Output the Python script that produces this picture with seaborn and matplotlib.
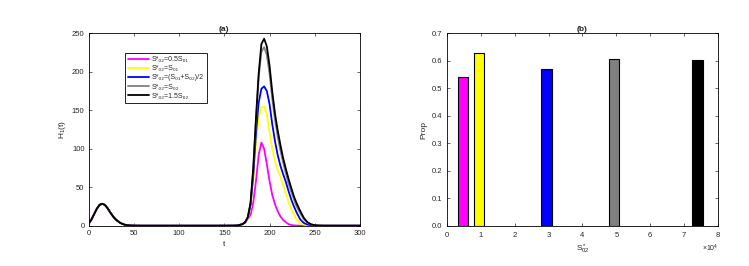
import numpy as np
import pandas as pd
import matplotlib
matplotlib.use('Agg')
import matplotlib.pyplot as plt
import seaborn as sns

# ============================================
# Data
# ============================================
# (a) H_1(t) curves: early wave (shared) + second wave per scenario
T_EARLY = [0, 3, 6, 9, 12, 15, 18, 21, 24, 27, 30, 35, 40, 45, 50, 60, 80, 100, 120, 140]
H_EARLY = [2.5, 8, 15, 22, 27, 28.5, 27, 22.5, 17, 12, 8, 3.5, 1.2, 0.4, 0.1, 0, 0, 0, 0, 0]

T_LATE = [160, 165, 170, 173, 176, 179, 182, 185, 188, 191, 194, 197, 200, 203, 206, 209,
          212, 215, 218, 221, 224, 227, 230, 234, 238, 242, 246, 250, 255, 260, 270, 280, 300]
H_MAGENTA = [0.1, 0.4, 2, 4, 9, 14, 30, 58, 92, 108, 100, 80, 58, 40, 28, 19,
             12, 7.5, 4.5, 2, 1, 0.4, 0.15, 0.05, 0, 0, 0, 0, 0, 0, 0, 0, 0]
H_YELLOW = [0.1, 0.4, 2, 4.5, 10, 24, 58, 108, 140, 154, 155, 145, 122, 100, 84, 72,
            64, 53, 42, 31, 22, 14, 8, 3.5, 1.3, 0.5, 0.2, 0.05, 0, 0, 0, 0, 0]
H_BLUE = [0.1, 0.4, 2, 4.5, 11, 27, 66, 120, 160, 178, 181, 175, 158, 132, 110, 92,
          78, 67, 57, 45, 34, 25, 17, 8, 3.5, 1.5, 0.6, 0.2, 0.05, 0, 0, 0, 0]
H_GRAY = [0.1, 0.4, 2, 4.5, 11, 29, 73, 136, 193, 226, 232, 222, 198, 165, 138, 116,
          98, 82, 68, 55, 44, 34, 25, 16, 8.5, 3.8, 1.5, 0.6, 0.2, 0.05, 0, 0, 0]
H_BLACK = [0.1, 0.4, 2, 4.5, 11, 30, 75, 140, 198, 236, 243, 233, 208, 174, 146, 124,
           105, 88, 74, 61, 49, 38, 29, 19, 10, 4.5, 1.8, 0.7, 0.2, 0.05, 0, 0, 0]

# legend texts (asterisk raised, indices as subscript digits)
LABELS = ['S*\u2080\u2082=0.5S\u2080\u2081',
          'S*\u2080\u2082=S\u2080\u2081',
          'S*\u2080\u2082=(S\u2080\u2081+S\u2080\u2082)/2',
          'S*\u2080\u2082=S\u2080\u2082',
          'S*\u2080\u2082=1.5S\u2080\u2082']
COLORS = ['#FF00FF', '#FFFF00', '#0000FF', '#808080', '#000000']

# (b) proportion vs S*_02
S02_STAR = [4700, 9400, 29400, 49300, 73900]
PROP = [0.541, 0.628, 0.570, 0.607, 0.602]

# ============================================
# Style
# ============================================
sns.set_style('ticks')
plt.rcParams['font.family'] = ['Liberation Sans', 'DejaVu Sans']
plt.rcParams['mathtext.fontset'] = 'custom'
plt.rcParams['mathtext.rm'] = 'Liberation Sans'
plt.rcParams['mathtext.it'] = 'Liberation Sans:italic'
plt.rcParams['mathtext.bf'] = 'Liberation Sans:bold'
plt.rcParams['xtick.direction'] = 'in'
plt.rcParams['ytick.direction'] = 'in'
plt.rcParams['axes.linewidth'] = 0.6

fig = plt.figure(figsize=(7.49, 2.66), dpi=100)
ax1 = fig.add_axes([0.1184, 0.1515, 0.3622, 0.7233])
ax2 = fig.add_axes([0.5964, 0.1515, 0.3626, 0.7233])

# ---- panel (a)
curves = [H_MAGENTA, H_YELLOW, H_BLUE, H_GRAY, H_BLACK]
frames = []
for lab, late in zip(LABELS, curves):
    frames.append(pd.DataFrame({'t': T_EARLY + T_LATE,
                                'H': H_EARLY + late,
                                'case': lab}))
df = pd.concat(frames, ignore_index=True)

sns.lineplot(data=df, x='t', y='H', hue='case', hue_order=LABELS,
             palette=COLORS, linewidth=1.3, ax=ax1)
sns.move_legend(ax1, 'upper left', bbox_to_anchor=(0.122, 0.915), title=None,
                frameon=True, fancybox=False, fontsize=5, handlelength=3.0,
                labelspacing=0.3, borderpad=0.45, handletextpad=0.4,
                edgecolor='black', framealpha=1)
ax1.get_legend().get_frame().set_linewidth(0.6)

ax1.set_xlim(0, 300)
ax1.set_ylim(0, 250)
ax1.set_xticks(np.arange(0, 301, 50))
ax1.set_yticks(np.arange(0, 251, 50))
ax1.set_xlabel('t', fontsize=6, labelpad=3)
ax1.set_ylabel('H$_1$(t)', fontsize=6, labelpad=3)
ax1.set_title('(a)', fontsize=6, fontweight='bold', pad=2)

# ---- panel (b)
bar_df = pd.DataFrame({'s': S02_STAR, 'prop': PROP, 'case': LABELS})
sns.barplot(data=bar_df, x='s', y='prop', hue='case', hue_order=LABELS,
            palette=COLORS, saturation=1, native_scale=True, dodge=False, width=0.64,
            edgecolor='black', linewidth=0.8, legend=False, ax=ax2)
ax2.set_xlim(0, 80000)
ax2.set_ylim(0, 0.7)
ax2.set_xticks(np.arange(0, 80001, 10000))
ax2.set_yticks(np.arange(0, 0.71, 0.1))
ax2.ticklabel_format(style='sci', axis='x', scilimits=(4, 4), useMathText=True)
ax2.xaxis.get_offset_text().set_fontsize(5)
ax2.set_xlabel(r'S$^*_{02}$', fontsize=6, labelpad=3)
ax2.set_ylabel('Prop', fontsize=6, labelpad=3)
ax2.set_title('(b)', fontsize=6, fontweight='bold', pad=2)

for ax in (ax1, ax2):
    ax.tick_params(axis='both', which='both', top=True, right=True,
                   length=2.5, width=0.5, labelsize=5.5, pad=3)
    for sp in ax.spines.values():
        sp.set_visible(True)
        sp.set_color('black')

fig.savefig('out.png', dpi=100)
